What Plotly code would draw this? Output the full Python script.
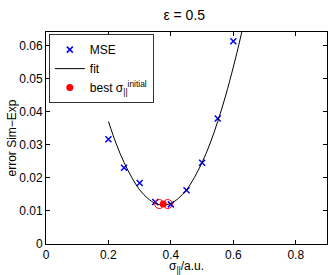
import plotly.graph_objects as go

# MSE data points
mse_x = [0.20, 0.25, 0.30, 0.35, 0.40, 0.45, 0.50, 0.55, 0.60]
mse_y = [0.0317, 0.0231, 0.0185, 0.0127, 0.0120, 0.0163, 0.0246, 0.0380, 0.0614]

# fit curve
fit_x = [0.20, 0.225, 0.25, 0.275, 0.30, 0.325, 0.35, 0.375, 0.40, 0.425, 0.45, 0.475,
         0.50, 0.525, 0.55, 0.575, 0.60, 0.615, 0.63]
fit_y = [0.0371, 0.0303, 0.0247, 0.0201, 0.0164, 0.0139, 0.0123, 0.0118, 0.0123, 0.0139,
         0.0164, 0.0201, 0.0247, 0.0303, 0.0371, 0.0448, 0.0536, 0.0593, 0.0654]

# best sigma and neighbouring candidates
best_x = [0.3755]
best_y = [0.0121]
cand_x = [0.3627, 0.3900]
cand_y = [0.0121, 0.0121]

x_ticks = [0, 0.2, 0.4, 0.6, 0.8]
y_ticks = [0, 0.01, 0.02, 0.03, 0.04, 0.05, 0.06]

font = "Liberation Sans, Arial, sans-serif"

fig = go.Figure()
fig.add_trace(go.Scatter(x=mse_x, y=mse_y, mode="markers", name="MSE",
                         marker=dict(symbol="x-thin", size=6, color="blue",
                                     line=dict(color="blue", width=1.5))))
fig.add_trace(go.Scatter(x=fit_x, y=fit_y, mode="lines", name="fit",
                         line=dict(color="black", width=1, shape="spline")))
fig.add_trace(go.Scatter(x=cand_x, y=cand_y, mode="markers", showlegend=False,
                         marker=dict(symbol="circle-open", size=9, color="red",
                                     line=dict(color="red", width=1))))
fig.add_trace(go.Scatter(x=best_x, y=best_y, mode="markers",
                         name="best σ<sub>||</sub><sup>initial</sup>",
                         marker=dict(symbol="circle", size=7, color="red")))

axis_common = dict(showgrid=False, zeroline=False, showline=True, linecolor="black",
                   linewidth=1, mirror="ticks", ticks="inside", ticklen=4,
                   tickcolor="black", automargin=False,
                   tickfont=dict(size=12, color="black", family=font))

fig.update_layout(
    width=332, height=275,
    margin=dict(l=46, r=5, t=32, b=31),
    paper_bgcolor="white", plot_bgcolor="white",
    font=dict(family=font, color="black", size=12),
    title=dict(text="ε = 0.5", x=0.555, xanchor="center", y=0.945, yanchor="middle",
               font=dict(size=14, family=font, color="black")),
    xaxis=dict(range=[0, 0.9], tickvals=x_ticks, ticktext=["0", "0.2", "0.4", "0.6", "0.8"],
               **axis_common),
    yaxis=dict(range=[0, 0.0642], tickvals=y_ticks,
               ticktext=["0", "0.01", "0.02", "0.03", "0.04", "0.05", "0.06"],
               title=dict(text="error Sim−Exp", standoff=0,
                          font=dict(size=12, family=font)),
               **axis_common),
    legend=dict(x=0.01, y=0.99, xanchor="left", yanchor="top",
                bgcolor="white", bordercolor="#333", borderwidth=1,
                font=dict(size=12, family=font), tracegroupgap=0,
                itemwidth=30),
    showlegend=True,
    annotations=[dict(text="σ<sub>||</sub>/a.u.", xref="paper", yref="paper",
                      x=0.5, y=-0.062, xanchor="center", yanchor="top",
                      showarrow=False, font=dict(size=12, family=font, color="black"))],
)

fig.write_html("out.html", config={"displayModeBar": False},
               post_script="document.body.style.margin='0';document.body.style.overflow='hidden';")
